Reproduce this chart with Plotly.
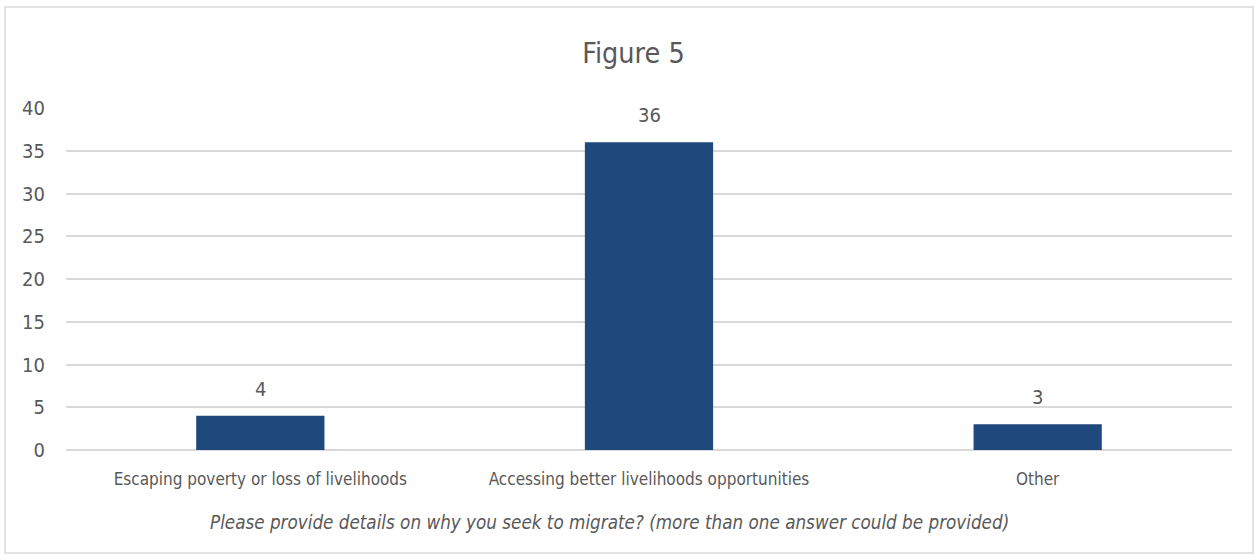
import plotly.graph_objects as go

categories = [
    "Escaping poverty or loss of livelihoods",
    "Accessing better livelihoods opportunities",
    "Other",
]
counts = [4, 36, 3]
y_ticks = [0, 5, 10, 15, 20, 25, 30, 35, 40]

title_text = "Figure 5"
axis_caption = "Please provide details on why you seek to migrate? (more than one answer could be provided)"

FONT = "DejaVu Sans Condensed, Liberation Sans Narrow, Arial Narrow, sans-serif"
TEXT_GREY = "#595959"
BAR_BLUE = "#1f497d"
GRID = "#d9d9d9"

W, H = 1258, 560
L, R, T, B = 66, 26, 108, 110
pw, ph = W - L - R, H - T - B

fig = go.Figure()
fig.add_trace(go.Bar(
    x=categories,
    y=counts,
    width=0.33,
    marker=dict(color=BAR_BLUE, line=dict(width=0)),
    hoverinfo="x+y",
))

# value labels above each bar
for c, v in zip(categories, counts):
    fig.add_annotation(
        x=c, y=v, xref="x", yref="y",
        text=str(v), showarrow=False,
        yanchor="bottom", yshift=13,
        font=dict(family=FONT, size=20, color=TEXT_GREY),
    )

# axis caption beneath the category labels
fig.add_annotation(
    x=(609 - L) / pw, y=(H - B - 522) / ph, xref="paper", yref="paper",
    text="<i>" + axis_caption + "</i>", showarrow=False,
    xanchor="center", yanchor="middle",
    font=dict(family=FONT, size=18.7, color=TEXT_GREY),
)

# light frame around the whole chart
fig.add_shape(
    type="rect", xref="paper", yref="paper",
    x0=(5 - L) / pw, x1=(1253 - L) / pw,
    y0=(H - B - 553) / ph, y1=(H - B - 7) / ph,
    line=dict(color="#d9d9d9", width=1.5),
    fillcolor="rgba(0,0,0,0)",
    layer="below",
)

fig.update_layout(
    width=W, height=H,
    margin=dict(l=L, r=R, t=T, b=B),
    paper_bgcolor="white",
    plot_bgcolor="white",
    showlegend=False,
    title=dict(
        text=title_text,
        x=(633.5 - L) / pw, xref="paper", xanchor="center",
        y=1 - 53 / H, yref="container", yanchor="middle",
        font=dict(family=FONT, size=28.5, color=TEXT_GREY),
    ),
    font=dict(family=FONT, color=TEXT_GREY),
    bargap=0.67,
)

fig.update_xaxes(
    showline=False,
    showgrid=False,
    ticks="",
    tickfont=dict(family=FONT, size=17, color=TEXT_GREY),
    ticklabelstandoff=17,
)

fig.update_yaxes(
    range=[0, 40],
    tickvals=y_ticks,
    showgrid=True,
    gridcolor=GRID,
    gridwidth=1.5,
    zeroline=True,
    zerolinecolor=GRID,
    zerolinewidth=1.5,
    showline=False,
    ticks="",
    tickfont=dict(family=FONT, size=20, color=TEXT_GREY),
    ticklabelstandoff=20,
)

fig.write_html("out.html")
